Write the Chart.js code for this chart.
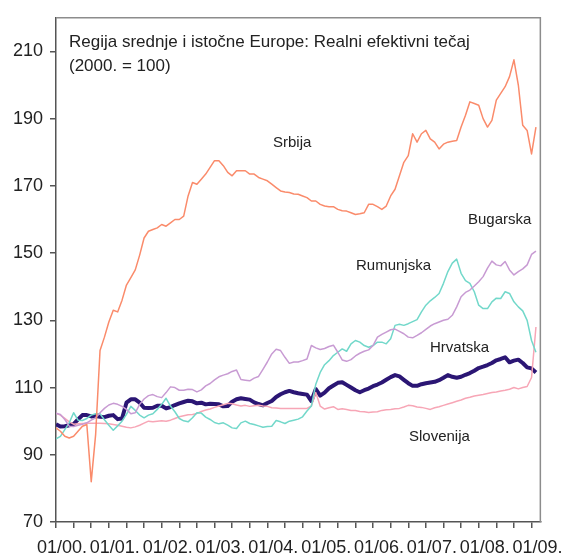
<!DOCTYPE html>
<html>
<head>
<meta charset="utf-8">
<script src="https://cdn.jsdelivr.net/npm/chart.js@4/dist/chart.umd.min.js"></script>
<style>
    html, body { margin: 0; padding: 0; background: #fff; }
    canvas { display: block; }
</style>
</head>
<body>
<canvas id="rer" width="566" height="555"></canvas>
<script>
// monthly index values, 01/2000 .. 02/2009 (2000. = 100)
const yearLabels = ['01/00.', '01/01.', '01/02.', '01/03.', '01/04.', '01/05.', '01/06.', '01/07.', '01/08.', '01/09.'];
const yTicks = [70, 90, 110, 130, 150, 170, 190, 210];

const srbija = [
    98, 97, 95.5, 95, 95.5, 97, 98.5, 99, 82, 96,
    121, 125, 129.5, 133, 132.5, 136, 140.5, 142.7, 145, 149.4,
    154.5, 156.5, 157, 157.5, 158.5, 158, 159, 160, 160, 161,
    167, 171, 170.5, 172, 173.5, 175.5, 177.5, 177.5, 176, 174,
    173, 174.5, 174.5, 174.5, 173.5, 173.5, 172.5, 172, 171.5, 170.5,
    169.5, 168.5, 168.2, 168, 167.6, 167.5, 167, 166.5, 165.5, 165.5,
    164.5, 164, 163.8, 163.8, 163, 162.6, 162.5, 162, 161.5, 161.7,
    162, 164.5, 164.5, 163.8, 163, 164, 167, 169, 173, 177,
    179, 185.5, 183, 185.5, 186.5, 184, 183, 181, 182.4, 183,
    183.3, 183.5, 187.5, 191, 195, 194.5, 194, 190, 187.5, 189.5,
    195.5, 197.5, 199.5, 202.5, 207.5, 200, 188, 186.5, 179.5, 187.5
];

const bugarska = [
    102.4, 102, 100.5, 98.5, 98.4, 98.8, 99.1, 99.5, 100.3, 101,
    102.5, 103.8, 104.8, 105.3, 105, 104.4, 103.5, 102.2, 102.5, 105,
    106.6, 107.6, 107.9, 107.3, 107, 108.5, 110.2, 110, 109.2, 109.2,
    109.5, 109.4, 108.7, 109.3, 110.5, 111.2, 112.3, 113.2, 113.7, 114.1,
    114.8, 115.2, 112.4, 112.2, 112, 112.8, 113.3, 115.4, 117.6, 120,
    121.4, 121, 119, 117.2, 117.6, 117.6, 118, 118.5, 122.5, 121.8,
    121.3, 121.6, 122.2, 122.6, 120.5, 118.2, 117.8, 118.3, 119.4, 120.2,
    120.8, 121.2, 122.5, 125, 125.8, 126.5, 127.2, 127.4, 126.7, 126,
    125, 124.8, 125.5, 126.3, 127.3, 128.3, 129, 129.5, 130, 130.3,
    131.5, 134, 137, 138.3, 139, 140.2, 141.5, 143, 145.5, 147.6,
    146.5, 146.2, 147.5, 145, 143.5, 144.5, 145.3, 146.5, 149.6, 150.6
];

const rumunjska = [
    94.7, 95.5, 97.5, 99.5, 102.5, 100.3, 100.2, 100.8, 101.8, 102.2,
    102.2, 100.4, 98.8, 97.3, 98.6, 100, 102, 104.4, 103.2, 101.8,
    101, 101.8, 102.2, 103.5, 105, 106.8, 104.5, 102.8, 100.8, 100.1,
    99.8, 101, 102.5, 102.4, 101.2, 100.5, 99.6, 99.2, 99.5, 98.8,
    98, 97.8, 99.5, 100, 99.3, 99, 98.6, 98.2, 98.4, 98.5,
    100.2, 99.8, 99.3, 100, 100.3, 100.6, 101.3, 103, 104.5, 111,
    114.5, 116.8, 118, 119.5, 120.5, 121.5, 120.8, 123, 124, 123.5,
    122.5, 122, 122.5, 123.5, 123.5, 123, 124.5, 128.5, 128.8, 128.5,
    129, 129.6, 130.2, 132.5, 134.5, 135.8, 136.8, 138, 141, 144.5,
    147, 148.2, 144, 141.8, 141, 138.5, 134.5, 133.5, 133.5, 135.5,
    136.6, 136.5, 138.5, 138, 135.5, 134, 132.8, 130, 124, 120.5
];

const hrvatska = [
    99.1, 98.4, 98.5, 98.8, 99.1, 100.5, 101.8, 101.8, 101.4, 101.5,
    101.3, 101.2, 101.6, 101.8, 100.6, 100.8, 105.5, 106.5, 106.5, 105.5,
    104, 103.9, 104, 104.6, 104.6, 103.8, 104.2, 104.8, 105.3, 105.7,
    106.1, 105.9, 105.3, 105.5, 105, 105.2, 105.1, 105, 104.4, 104.5,
    105.8, 106.5, 106.8, 106.6, 106.4, 105.6, 105.1, 104.7, 105.4, 106,
    107.2, 108, 108.6, 109, 108.6, 108.3, 108.1, 107.9, 106, 109.5,
    107.6, 108.5, 109.8, 110.6, 111.4, 111.6, 110.8, 110, 109.2, 108.6,
    109.2, 109.7, 110.4, 110.9, 111.5, 112.3, 113.1, 113.7, 113.3, 112.3,
    111.3, 110.5, 110.5, 111, 111.3, 111.5, 111.7, 112.2, 112.9, 113.7,
    113.2, 112.9, 113.2, 113.8, 114.3, 115, 115.8, 116.2, 116.7, 117.3,
    118.1, 118.5, 119, 117.5, 118, 118.3, 117.3, 116, 115.7, 114.5
];

const slovenija = [
    102.4, 101.8, 100.8, 99.8, 99.1, 99.2, 99.3, 99.4, 99.4, 99.4,
    99.4, 99.3, 99.2, 99, 98.8, 98.5, 98.2, 98, 98.3, 98.8,
    99.4, 100, 99.8, 100, 100.1, 100, 100.3, 100.8, 101.3, 101.6,
    101.9, 102, 102.3, 102.9, 103.3, 103.6, 104.1, 104.5, 104.9, 105.3,
    105.2, 104.8, 104.5, 104.7, 104.4, 104.6, 104.7, 104.5, 104.4, 104,
    103.9, 103.8, 103.8, 103.8, 103.8, 103.8, 103.8, 103.8, 104.5, 108.5,
    104.5, 103.6, 104, 104.3, 103.5, 103.7, 103.5, 103.2, 103.2, 102.9,
    102.8, 102.6, 102.7, 102.8, 103.2, 103.4, 103.5, 103.7, 103.8, 104.2,
    104.7, 104.6, 104.2, 104.1, 103.8, 103.5, 104, 104.3, 104.7, 105.1,
    105.5, 105.9, 106.3, 106.8, 107.1, 107.5, 107.7, 107.9, 108.2, 108.5,
    108.7, 109, 109.2, 109.5, 110, 109.6, 110, 110.3, 113, 128
];

const FONT = "'Liberation Sans', Arial, sans-serif";

function series(values) {
    return values.map((v, i) => ({x: i, y: v}));
}

// labels written inside the plot (title + country names)
const notes = [
    {text: 'Regija srednje i istočne Europe: Realni efektivni tečaj', x: 69, y: 42, size: 17},
    {text: '(2000. = 100)', x: 69, y: 66, size: 17},
    {text: 'Srbija', x: 273, y: 143, size: 15},
    {text: 'Bugarska', x: 468, y: 220, size: 15},
    {text: 'Rumunjska', x: 356, y: 266, size: 15},
    {text: 'Hrvatska', x: 430, y: 348, size: 15},
    {text: 'Slovenija', x: 409, y: 437, size: 15}
];

const framePlugin = {
    id: 'frame',
    afterDraw(chart) {
        const ctx = chart.ctx;
        const a = chart.chartArea;
        ctx.save();
        ctx.strokeStyle = '#8c8c8c';
        ctx.lineWidth = 1.5;
        ctx.beginPath();
        ctx.moveTo(a.left, a.top);
        ctx.lineTo(a.right, a.top);
        ctx.lineTo(a.right, a.bottom);
        ctx.stroke();
        ctx.fillStyle = '#222';
        ctx.textBaseline = 'middle';
        ctx.textAlign = 'left';
        notes.forEach(n => {
            ctx.font = n.size + 'px ' + FONT;
            ctx.fillText(n.text, n.x, n.y);
        });
        ctx.restore();
    }
};

const chart = new Chart(document.getElementById('rer'), {
    type: 'line',
    data: {
        datasets: [
            {label: 'Srbija', data: series(srbija), borderColor: '#fa8b6b', borderWidth: 1.5},
            {label: 'Bugarska', data: series(bugarska), borderColor: '#c89bd3', borderWidth: 1.5},
            {label: 'Rumunjska', data: series(rumunjska), borderColor: '#72d8ca', borderWidth: 1.5},
            {label: 'Slovenija', data: series(slovenija), borderColor: '#f7a6b6', borderWidth: 1.5},
            {label: 'Hrvatska', data: series(hrvatska), borderColor: '#2b1674', borderWidth: 4}
        ]
    },
    options: {
        responsive: false,
        animation: false,
        layout: {padding: {top: 13, right: 24, bottom: 0, left: 0}},
        elements: {
            point: {radius: 0},
            line: {tension: 0, borderJoinStyle: 'round'}
        },
        plugins: {
            legend: {display: false},
            tooltip: {enabled: false}
        },
        scales: {
            x: {
                type: 'linear',
                min: 0,
                max: 110,
                afterFit: s => { s.height = 33; },
                grid: {drawOnChartArea: false, tickLength: 6, color: '#555', lineWidth: 1.5},
                border: {color: '#555', width: 1.5},
                ticks: {
                    stepSize: 4,
                    includeBounds: false,
                    autoSkip: false,
                    maxRotation: 0,
                    minRotation: 0,
                    padding: 9,
                    labelOffset: 6,
                    color: '#222',
                    font: {family: FONT, size: 18},
                    callback: v => (v % 12 === 0 ? yearLabels[v / 12] : '')
                }
            },
            y: {
                min: 70,
                max: 220,
                afterFit: s => { s.width = 56; },
                afterBuildTicks: s => { s.ticks = yTicks.map(v => ({value: v})); },
                grid: {drawOnChartArea: false, tickLength: 6, color: '#555', lineWidth: 1.5},
                border: {color: '#555', width: 1.5},
                ticks: {
                    padding: 7,
                    color: '#222',
                    font: {family: FONT, size: 18}
                }
            }
        }
    },
    plugins: [framePlugin]
});
</script>
</body>
</html>
